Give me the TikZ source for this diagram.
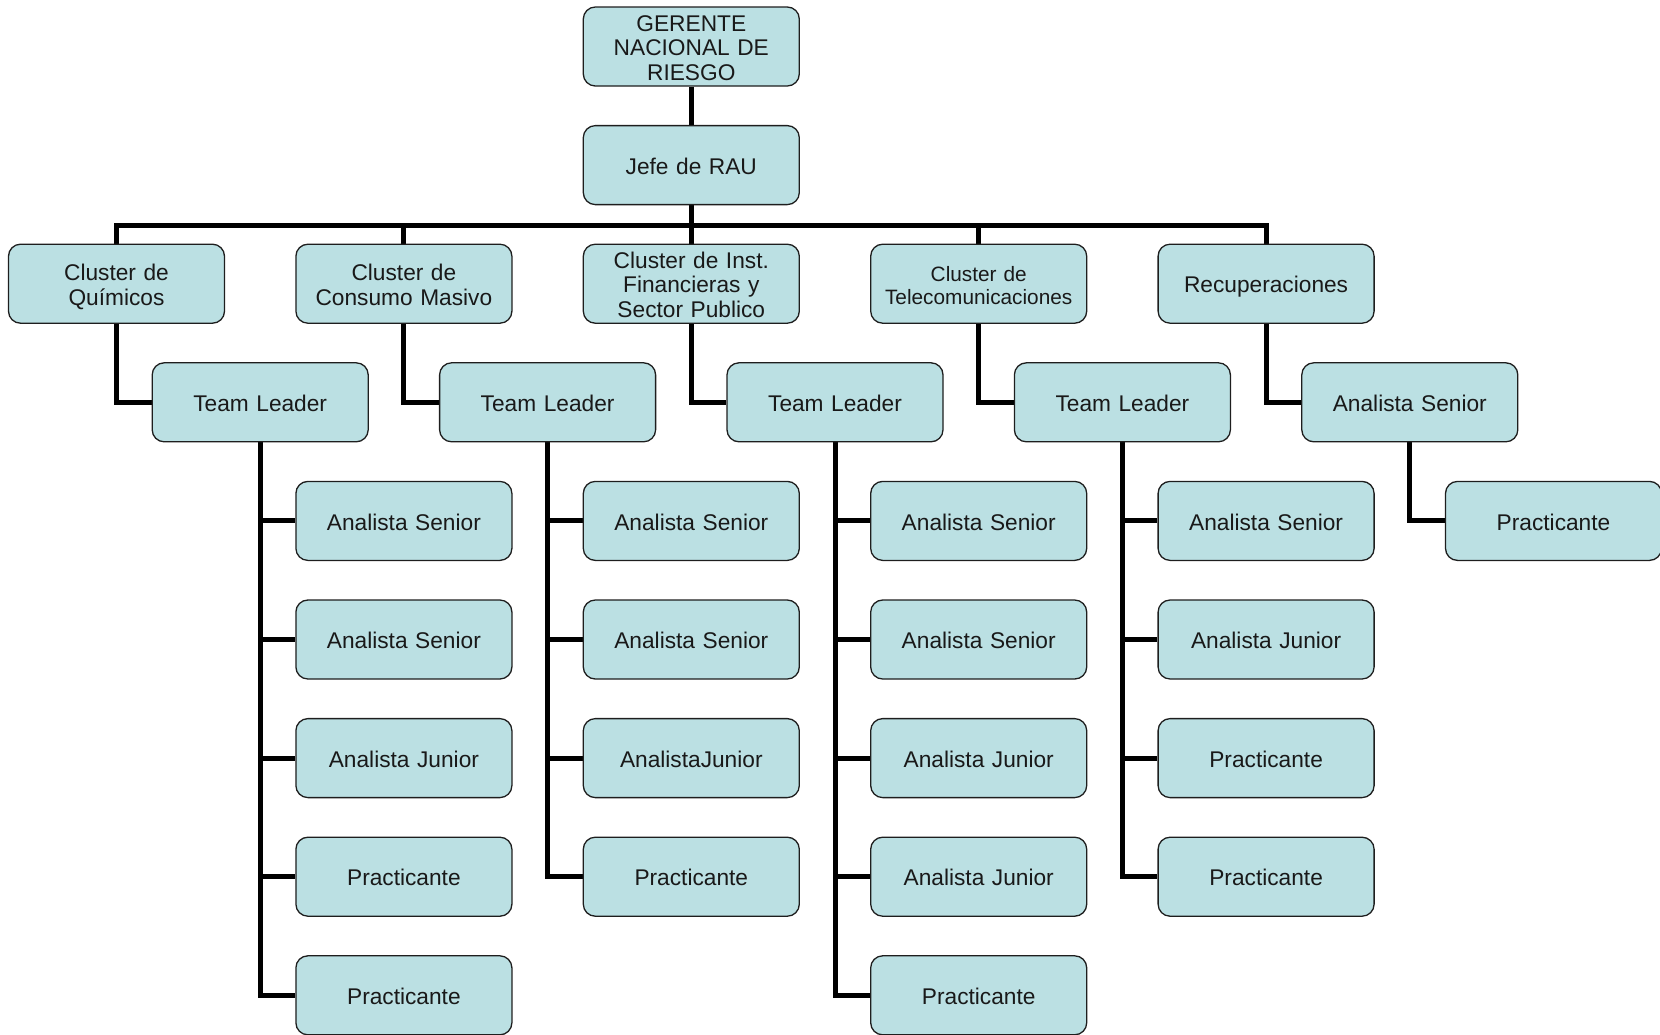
\documentclass[tikz,border=0pt]{standalone}
\usepackage{fontspec}
\setmainfont{Liberation Sans}
\usetikzlibrary{backgrounds}
\definecolor{boxfill}{RGB}{187,224,227}
\definecolor{boxline}{RGB}{30,30,30}
\tikzset{
  orgbox/.style={draw=boxline, line width=1.3pt, fill=boxfill, rounded corners=12pt,
    minimum width=216pt, minimum height=79pt, inner sep=0pt, text width=212pt, align=center,
    font=\fontsize{22.7}{24.3}\selectfont, text=black!90,
    execute at begin node={\rule{0pt}{23.5pt}},
    execute at end node={\rule[-5pt]{0pt}{5pt}}},
  smalltext/.style={font=\fontsize{20.8}{22.3}\selectfont},
  link/.style={line width=5pt, black}
}
\newcommand{\cx}[1]{116.5+287.4*#1}
\newcommand{\ry}[1]{46.5+118.6*#1}
\begin{document}
\begin{tikzpicture}[x=1pt,y=-1pt]
\useasboundingbox (0,0) rectangle (1660,1034);
% top
\node[orgbox] (ger) at ({\cx{2}},{\ry{0}}) {GERENTE\\NACIONAL DE\\RIESGO};
\node[orgbox] (jefe) at ({\cx{2}},{\ry{1}}) {Jefe de RAU};
% clusters
\node[orgbox] (cq) at ({\cx{0}},{\ry{2}}) {Cluster de\\Químicos};
\node[orgbox] (ccm) at ({\cx{1}},{\ry{2}}) {Cluster de\\Consumo Masivo};
\node[orgbox] (cif) at ({\cx{2}},{\ry{2}}) {Cluster de Inst.\\Financieras y\\Sector Publico};
\node[orgbox,smalltext] (ctel) at ({\cx{3}},{\ry{2}}) {Cluster de\\Telecomunicaciones};
\node[orgbox] (rec) at ({\cx{4}},{\ry{2}}) {Recuperaciones};
% row 3
\node[orgbox] (tla) at ({\cx{0.5}},{\ry{3}}) {Team Leader};
\node[orgbox] (tlb) at ({\cx{1.5}},{\ry{3}}) {Team Leader};
\node[orgbox] (tlc) at ({\cx{2.5}},{\ry{3}}) {Team Leader};
\node[orgbox] (tld) at ({\cx{3.5}},{\ry{3}}) {Team Leader};
\node[orgbox] (asr) at ({\cx{4.5}},{\ry{3}}) {Analista Senior};
% under tla (col 1)
\node[orgbox] (a1) at ({\cx{1}},{\ry{4}}) {Analista Senior};
\node[orgbox] (a2) at ({\cx{1}},{\ry{5}}) {Analista Senior};
\node[orgbox] (a3) at ({\cx{1}},{\ry{6}}) {Analista Junior};
\node[orgbox] (a4) at ({\cx{1}},{\ry{7}}) {Practicante};
\node[orgbox] (a5) at ({\cx{1}},{\ry{8}}) {Practicante};
% under tlb (col 2)
\node[orgbox] (b1) at ({\cx{2}},{\ry{4}}) {Analista Senior};
\node[orgbox] (b2) at ({\cx{2}},{\ry{5}}) {Analista Senior};
\node[orgbox] (b3) at ({\cx{2}},{\ry{6}}) {AnalistaJunior};
\node[orgbox] (b4) at ({\cx{2}},{\ry{7}}) {Practicante};
% under tlc (col 3)
\node[orgbox] (c1) at ({\cx{3}},{\ry{4}}) {Analista Senior};
\node[orgbox] (c2) at ({\cx{3}},{\ry{5}}) {Analista Senior};
\node[orgbox] (c3) at ({\cx{3}},{\ry{6}}) {Analista Junior};
\node[orgbox] (c4) at ({\cx{3}},{\ry{7}}) {Analista Junior};
\node[orgbox] (c5) at ({\cx{3}},{\ry{8}}) {Practicante};
% under tld (col 4)
\node[orgbox] (d1) at ({\cx{4}},{\ry{4}}) {Analista Senior};
\node[orgbox] (d2) at ({\cx{4}},{\ry{5}}) {Analista Junior};
\node[orgbox] (d3) at ({\cx{4}},{\ry{6}}) {Practicante};
\node[orgbox] (d4) at ({\cx{4}},{\ry{7}}) {Practicante};
% under asr (col 5)
\node[orgbox] (e1) at ({\cx{5}},{\ry{4}}) {Practicante};
\coordinate (bus) at ({\cx{2}},225.7);
\begin{scope}[on background layer]
\draw[link] (ger.south) -- (jefe.north);
\draw[link] (jefe.south) -- (cif.north);
\draw[link] (cq.north) |- (bus) -| (rec.north);
\draw[link] (ccm.north) -- (ccm.north |- bus);
\draw[link] (ctel.north) -- (ctel.north |- bus);
\draw[link] (cq.south) |- (tla.west);
\draw[link] (ccm.south) |- (tlb.west);
\draw[link] (cif.south) |- (tlc.west);
\draw[link] (ctel.south) |- (tld.west);
\draw[link] (rec.south) |- (asr.west);
\foreach \n in {a1,a2,a3,a4,a5} \draw[link] (tla.south) |- (\n.west);
\foreach \n in {b1,b2,b3,b4} \draw[link] (tlb.south) |- (\n.west);
\foreach \n in {c1,c2,c3,c4,c5} \draw[link] (tlc.south) |- (\n.west);
\foreach \n in {d1,d2,d3,d4} \draw[link] (tld.south) |- (\n.west);
\draw[link] (asr.south) |- (e1.west);
\end{scope}
\end{tikzpicture}
\end{document}
